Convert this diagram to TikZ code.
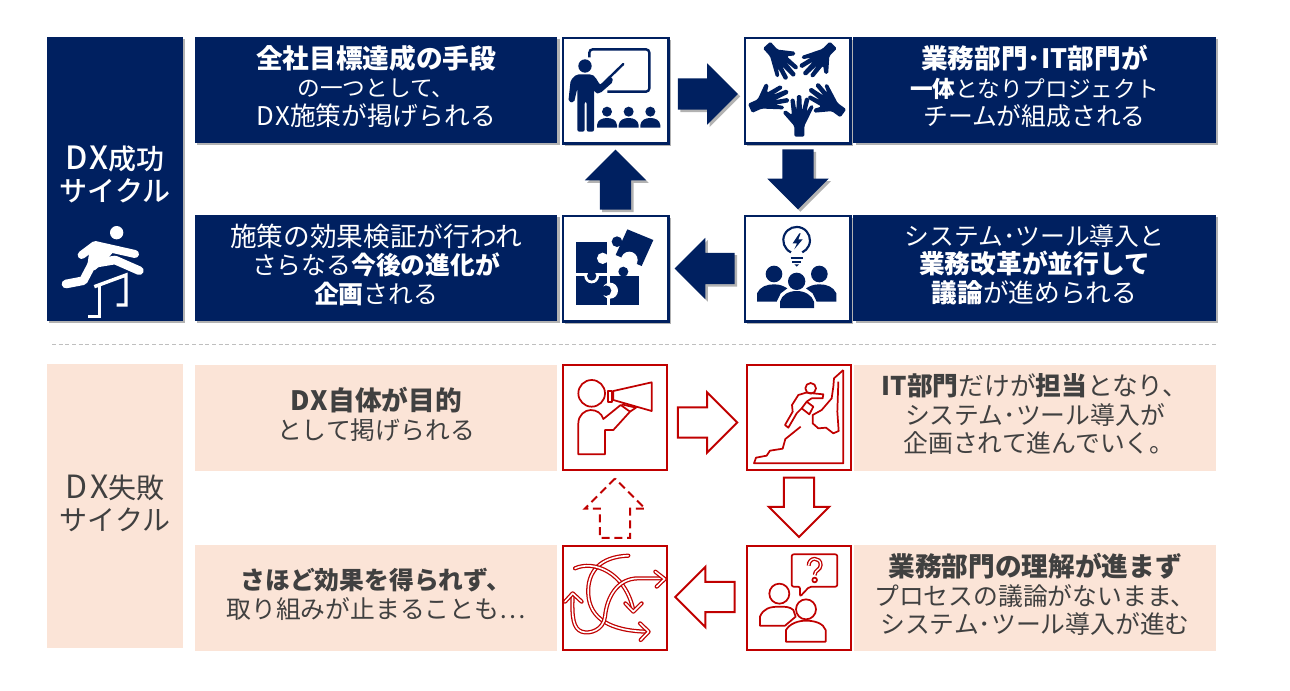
\documentclass[tikz,border=0pt]{standalone}
\usepackage{fontspec}
\setmainfont{Noto Sans CJK JP}
\newfontfamily\medfont{Noto Sans CJK JP Medium}
\usetikzlibrary{calc,shadows,shapes.arrows}
\definecolor{dxnavy}{HTML}{002060}
\definecolor{dxred}{HTML}{C00000}
\definecolor{dxpeach}{HTML}{FBE4D7}
\definecolor{dxgrey}{HTML}{404040}
\newcommand\wl[1]{{\addfontfeatures{LetterSpace=8}#1}}
\newcommand\sidelatin[1]{{\fontsize{24}{24}\selectfont\addfontfeatures{LetterSpace=10}#1}}
\newcommand\leadline[1]{{\fontsize{20}{21.4}\selectfont #1}}
\newcommand\midline[1]{{\fontsize{19.3}{21.4}\selectfont #1}}
\newcommand\smline[1]{{\fontsize{17}{21.4}\selectfont #1}}
\newcommand\hand[2]{%
  \fill[dxnavy,shift={#1},rotate=#2,rounded corners=1.1pt]
    (-15,0) -- (-15,-32) -- (-50,-72) -- (-42,-80) -- (-22,-65) -- (-27,-113) -- (-15,-115) -- (-9,-78)
    -- (-7,-125) -- (6,-125) -- (8,-78) -- (18,-118) -- (31,-115) -- (21,-74) -- (35,-96) -- (44,-91)
    -- (15,-32) -- (15,0) -- cycle;}
\tikzset{
  softshadow/.style={drop shadow={shadow xshift=1.8pt,shadow yshift=-1.8pt,fill=black,opacity=.3}},
  goodbox/.style={fill=dxnavy,softshadow,text=white,inner sep=0pt,align=center,text depth=7pt,
    minimum width=272pt,minimum height=79.5pt,font=\fontsize{18.6}{21.4}\selectfont},
  badbox/.style={fill=dxpeach,text=dxgrey,inner sep=0pt,align=center,text depth=7pt,
    minimum width=272pt,minimum height=79.5pt,font=\fontsize{18.6}{21.4}\selectfont},
  sidebox/.style={inner sep=0pt,minimum width=102pt,minimum height=213pt},
  sidelabel/.style={inner sep=0pt,align=center,font=\fontsize{21}{24}\selectfont},
  goodicon/.style={draw=dxnavy,line width=2pt,fill=white,softshadow,inner sep=0pt,minimum size=79pt},
  badicon/.style={draw=dxred,line width=1.6pt,fill=white,inner sep=0pt,minimum size=78.5pt},
  goodarrow/.style={single arrow,fill=dxnavy,softshadow,inner xsep=0pt,inner ysep=11.6pt,minimum height=45pt,
    single arrow head extend=11.25pt,single arrow head indent=0pt},
  badarrow/.style={single arrow,draw=dxred,line width=1.5pt,fill=white,inner xsep=0pt,inner ysep=10.6pt,minimum height=44.5pt,
    single arrow head extend=11.25pt,single arrow head indent=0pt},
  redline/.style={draw=dxred,line width=1.3pt,line join=round},
  swirl/.style={draw=dxred,line width=.95pt,double=white,double distance=1.2pt,line cap=round,line join=round},
}
\begin{document}
\begin{tikzpicture}[x=.75pt,y=-.75pt]
  \useasboundingbox (0,0) rectangle (1290,690);
  % success cycle
  \node[sidebox,fill=dxnavy,softshadow] (goodside) at (115,179) {};
  \node[sidelabel,text=white] (goodlabel) at (115,174) {\medfont\sidelatin{DX}成功\\\medfont サイクル};
  \node[goodbox] (goodtl) at (376,90) {\leadline{\textbf{全社目標達成の手段}}\\\smline{の一つとして、}\\\midline{\wl{DX}施策が掲げられる}};
  \node[goodbox] (goodtr) at (1034.5,90) {\leadline{\textbf{業務部門･IT部門が}}\\\smline{\textbf{一体}となりプロジェクト}\\チームが組成される};
  \node[goodbox] (goodbl) at (376,268) {\leadline{施策の効果検証が行われ}\\さらなる\textbf{今後の進化が}\\\textbf{企画}される};
  \node[goodbox] (goodbr) at (1034.5,268) {システム･ツール導入と\\\midline{\textbf{業務改革が並行して}}\\\midline{\textbf{議論}が進められる}};
  \node[goodicon] (lecture) at (615.5,90.5) {};
  \node[goodicon] (hands) at (797.5,90.5) {};
  \node[goodicon] (bulb) at (797.5,268.5) {};
  \node[goodicon] (puzzle) at (615.5,268.5) {};
  \node[goodarrow] (goodright) at ($(lecture.east)!.5!(hands.west)+(-6.5,3.5)$) {};
  \node[goodarrow,rotate=-90] (gooddown) at ($(hands.south)!.5!(bulb.north)+(.5,-8)$) {};
  \node[goodarrow,rotate=180] (goodleft) at ($(bulb.west)!.5!(puzzle.east)+(6,0)$) {};
  \node[goodarrow,rotate=90] (goodup) at ($(puzzle.north)!.5!(lecture.south)+(0,8)$) {};
  % runner
  \begin{scope}[shift={(40,30)},x=.25pt,y=-.25pt]
    \fill[white] (230,608) circle (20);
    \draw[white,line width=6pt,line cap=round,line join=round] (125,675) -- (165,645) -- (285,672);
    \fill[white] (150,650) -- (225,660) -- (195,695) -- (165,720) -- (140,720) -- cycle;
    \draw[white,line width=6.5pt,line cap=round,line join=round] (78,762) -- (130,752) -- (160,695);
    \draw[white,line width=6.5pt,line cap=round,line join=round] (165,700) -- (225,690) -- (298,722);
    \draw[white,line width=2.6pt] (163,770) -- (258,735) -- (258,825) -- (230,825);
    \draw[white,line width=2.6pt] (178,768) -- (178,860) -- (145,860);
  \end{scope}
  % teacher
  \begin{scope}[shift={(550,30)},x=.25pt,y=-.25pt]
    \draw[dxnavy,line width=1.8pt,rounded corners=2.5pt] (118,82) -- (118,58) -- (298,58) -- (298,185) -- (172,185);
    \draw[dxnavy,line width=1.8pt,line cap=round] (155,165) -- (220,102);
    \fill[dxnavy] (105,108) circle (20);
    \fill[dxnavy,rounded corners=1.5pt] (55,215) -- (62,150) -- (80,133) -- (125,133) -- (135,140)
      -- (150,165) -- (185,140) -- (190,155) -- (150,190) -- (135,190) -- (132,175) -- (132,305)
      -- (110,305) -- (110,215) -- (104,215) -- (104,305) -- (82,305) -- (82,175) -- (72,218) -- cycle;
    \foreach \px in {171,236,301} {
      \fill[dxnavy] (\px,245) circle (15);
      \fill[dxnavy] (\px-30,293) -- (\px-30,285) .. controls (\px-28,270) and (\px-15,264) .. (\px,264)
        .. controls (\px+15,264) and (\px+28,270) .. (\px+30,285) -- (\px+30,293) -- cycle;
    }
    % five hands
    \hand{(748,320)}{0}
    \hand{(650,45)}{-138}
    \hand{(850,45)}{135}
    \hand{(600,235)}{-66}
    \hand{(880,250)}{54}
    % puzzle
    \fill[dxnavy] (78,738) rectangle (170,825);
    \fill[white] (125,738) circle (22);
    \fill[dxnavy] (78,637) rectangle (170,730);
    \fill[dxnavy] (125,738) circle (14);
    \fill[white] (158,685) circle (17);
    \fill[dxnavy] (180,738) rectangle (267,825);
    \fill[dxnavy] (220,725) circle (15);
    \fill[white] (180,782) circle (24);
    \fill[dxnavy] (168,782) circle (16);
    \fill[dxnavy] (232,598) -- (310,630) -- (275,708) -- (197,675) -- cycle;
    \fill[white] (238,690) circle (25);
    \fill[dxnavy] (201,635) circle (16);
    % bulb and people
    \draw[dxnavy,line width=1.6pt] (723,667) arc[start angle=115,end angle=425,radius=40];
    \draw[dxnavy,line width=1.6pt] (722,685) -- (758,685) (727,696) -- (753,696);
    \fill[dxnavy] (733,703) -- (747,703) -- (740,710) -- cycle;
    \fill[dxnavy] (748,610) -- (728,640) -- (741,640) -- (733,658) -- (758,628) -- (745,628) -- (752,610) -- cycle;
    \fill[dxnavy] (672,732) circle (25) (808,732) circle (25);
    \fill[dxnavy] (621,815) -- (621,790) .. controls (630,770) and (650,763) .. (672,763) .. controls (690,763) and (700,768) .. (712,775)
      -- (692,790) -- (680,815) -- cycle;
    \fill[dxnavy] (859,815) -- (859,790) .. controls (850,770) and (830,763) .. (808,763) .. controls (790,763) and (780,768) .. (768,775)
      -- (788,790) -- (800,815) -- cycle;
    \fill[dxnavy] (740,754) circle (26);
    \fill[dxnavy] (690,834) -- (690,815) .. controls (695,795) and (715,783) .. (740,783) .. controls (765,783) and (785,795) .. (792,815) -- (792,834) -- cycle;
  \end{scope}
  % separator
  \coordinate (sepleft) at (52,344);
  \coordinate (sepright) at (1216,344);
  \draw[draw=black!25,line width=.7pt,densely dashed] (sepleft) -- (sepright);
  % failure cycle
  \node[sidebox,fill=dxpeach] (badside) at (115,505.5) {};
  \node[sidelabel,text=dxgrey] (badlabel) at (115,503) {\sidelatin{DX}失敗\\サイクル};
  \node[badbox] (badtl) at (376,418) {\leadline{\textbf{\wl{DX}自体が目的}}\\として掲げられる};
  \node[badbox] (badtr) at (1035,418) {\midline{\textbf{IT部門}だけが\textbf{担当}となり、}\\システム･ツール導入が\\\hspace*{6pt}企画されて進んでいく。};
  \node[badbox] (badbl) at (376,598) {\textbf{さほど効果を得られず、}\\取り組みが止まることも…};
  \node[badbox] (badbr) at (1035,598) {\leadline{\textbf{業務部門の理解が進まず}}\\プロセスの議論がないまま、\\システム･ツール導入が進む};
  \node[badicon] (speaker) at (615,417.5) {};
  \node[badicon] (climber) at (799,417.5) {};
  \node[badicon] (talker) at (799,598) {};
  \node[badicon] (tangle) at (615,598) {};
  \node[badarrow] (badright) at ($(speaker.east)!.5!(climber.west)+(-7,5)$) {};
  \node[badarrow,rotate=-90] (baddown) at ($(climber.south)!.5!(talker.north)+(0,-8)$) {};
  \node[badarrow,rotate=180] (badleft) at ($(talker.west)!.5!(tangle.east)+(5.5,-1)$) {};
  \node[badarrow,rotate=90,dash pattern=on 6pt off 3.5pt] (badup) at ($(tangle.north)!.5!(speaker.south)+(0,8)$) {};
  \begin{scope}[shift={(550,355)},x=.25pt,y=-.25pt]
    % megaphone
    \draw[redline] (125,115) circle (40);
    \draw[redline] (85,298) -- (85,205) .. controls (85,180) and (105,165) .. (122,165) .. controls (140,165) and (155,175) .. (160,192)
      -- (212,150) -- (240,170) -- (190,225) -- (165,225) -- (165,298) -- cycle;
    \draw[redline] (190,108) -- (305,82) -- (305,168) -- (190,135) -- cycle;
    \draw[redline] (173,108) rectangle (185,140);
    \draw[redline] (215,148) -- (258,158) -- (240,170);
    % climber
    \draw[redline] (880,45) -- (880,325) -- (612,325) -- (618,308) -- (650,302) -- (660,287) -- (698,281) -- (706,252) -- (752,215);
    \draw[redline] (880,45) -- (852,70) -- (850,95) -- (845,130) -- (815,165) -- (788,180) -- (788,205) -- (805,220) -- (828,218)
      -- (850,235) -- (866,228) -- (862,170) -- (865,80);
    \draw[redline] (782,100) circle (16);
    \draw[redline] (705,210) -- (728,170) -- (726,150) -- (745,120) -- (768,113) -- (820,118) -- (818,130) -- (785,130) -- (770,140)
      -- (755,160) -- (740,175) -- (715,218) -- cycle;
    \draw[redline] (770,140) -- (790,155) -- (778,178) -- (755,160);
    % question
    \draw[redline,rounded corners=1.5pt] (750,695) -- (725,695) -- (725,598) -- (862,598) -- (862,695) -- (778,695) -- (750,725) -- cycle;
    \draw[draw=dxred,line width=1pt,double=white,double distance=1pt] (776,632) .. controls (776,605) and (812,605) .. (812,630)
      .. controls (812,645) and (794,645) .. (794,660);
    \draw[redline] (794,675) circle (7);
    \draw[redline] (688,716) circle (30);
    \draw[redline] (630,812) -- (630,785) .. controls (640,760) and (660,755) .. (688,755) .. controls (705,755) and (720,755) .. (730,765)
      -- (737,785) -- (705,812) -- cycle;
    \draw[redline] (768,763) circle (30);
    \draw[redline] (708,860) -- (708,825) .. controls (720,805) and (745,797) .. (768,797) .. controls (795,797) and (820,805) .. (827,825)
      -- (827,860) -- cycle;
    % arrows
    \draw[swirl] (235,602) .. controls (150,605) and (110,650) .. (115,720) .. controls (120,790) and (180,828) .. (292,830);
    \draw[swirl] (270,805) -- (296,830) -- (272,855);
    \draw[swirl] (75,640) .. controls (130,615) and (225,650) .. (250,765);
    \draw[swirl] (226,745) -- (250,770) -- (275,745);
    \draw[swirl] (340,670) -- (265,670) .. controls (200,670) and (170,730) .. (165,785) .. controls (160,825) and (120,838) .. (95,830)
      .. controls (70,820) and (65,790) .. (68,720);
    \draw[swirl] (45,740) -- (68,715) -- (95,740);
    \draw[swirl] (316,650) -- (344,672) -- (320,695);
  \end{scope}
\end{tikzpicture}
\end{document}
